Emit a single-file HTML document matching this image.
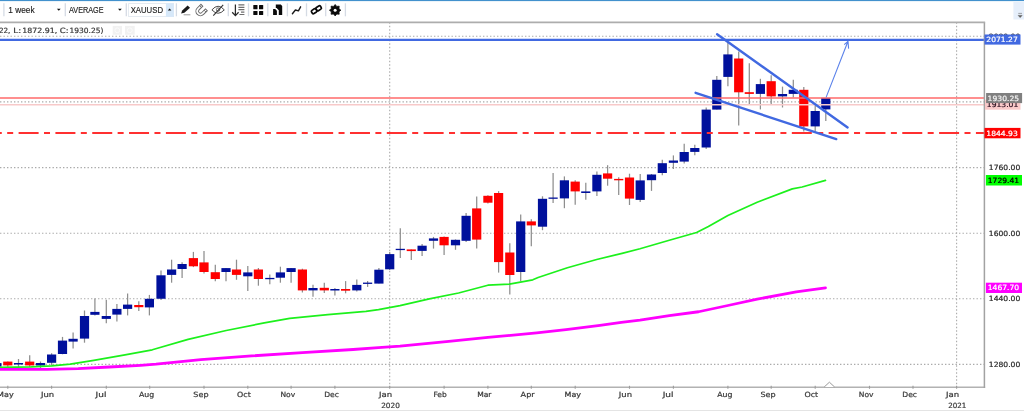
<!DOCTYPE html>
<html lang="en">
<head>
<meta charset="utf-8">
<title>XAUUSD weekly chart</title>
<style>
html,body{margin:0;padding:0;background:#fff;}
body{width:1024px;height:411px;overflow:hidden;position:relative;font-family:"Liberation Sans",sans-serif;}
.chart{position:absolute;left:0;top:0;display:block;}
.tb{position:absolute;left:0;top:0;display:block;}
.foot{position:absolute;left:0;top:410px;width:1024px;height:1px;background:#e4e4e4;}
</style>
</head>
<body>
<svg class="chart" width="1024" height="411" viewBox="0 0 1024 411">
<line x1="0" y1="36.3" x2="984.4" y2="36.3" stroke="#aaaaaa" stroke-width="1.1" stroke-dasharray="1.4 2.1"/>
<line x1="0" y1="101.9" x2="984.4" y2="101.9" stroke="#aaaaaa" stroke-width="1.1" stroke-dasharray="1.4 2.1"/>
<line x1="0" y1="167.6" x2="984.4" y2="167.6" stroke="#aaaaaa" stroke-width="1.1" stroke-dasharray="1.4 2.1"/>
<line x1="0" y1="233.3" x2="984.4" y2="233.3" stroke="#aaaaaa" stroke-width="1.1" stroke-dasharray="1.4 2.1"/>
<line x1="0" y1="298.8" x2="984.4" y2="298.8" stroke="#aaaaaa" stroke-width="1.1" stroke-dasharray="1.4 2.1"/>
<line x1="0" y1="364.4" x2="984.4" y2="364.4" stroke="#aaaaaa" stroke-width="1.1" stroke-dasharray="1.4 2.1"/>
<line x1="389.7" y1="22.3" x2="389.7" y2="387.3" stroke="#aaaaaa" stroke-width="1.1" stroke-dasharray="1.4 2.1"/>
<line x1="956.6" y1="22.3" x2="956.6" y2="387.3" stroke="#aaaaaa" stroke-width="1.1" stroke-dasharray="1.4 2.1"/>
<line x1="-3.1" y1="363.1" x2="-3.1" y2="366.6" stroke="#8e8e8e" stroke-width="1.25"/>
<rect x="-7.70" y="363.1" width="9.2" height="3.50" fill="#00109c"/>
<line x1="7.8" y1="361.6" x2="7.8" y2="367.0" stroke="#8e8e8e" stroke-width="1.25"/>
<rect x="3.20" y="361.6" width="9.2" height="3.80" fill="#ff0000"/>
<line x1="18.5" y1="359.0" x2="18.5" y2="367.3" stroke="#8e8e8e" stroke-width="1.25"/>
<rect x="13.90" y="363.0" width="9.2" height="1.50" fill="#00109c"/>
<line x1="29.7" y1="355.3" x2="29.7" y2="367.0" stroke="#8e8e8e" stroke-width="1.25"/>
<rect x="25.10" y="361.6" width="9.2" height="3.80" fill="#ff0000"/>
<line x1="40.5" y1="361.5" x2="40.5" y2="368.0" stroke="#8e8e8e" stroke-width="1.25"/>
<rect x="35.90" y="363.0" width="9.2" height="2.50" fill="#00109c"/>
<line x1="51.6" y1="353.2" x2="51.6" y2="365.1" stroke="#8e8e8e" stroke-width="1.25"/>
<rect x="47.00" y="354.5" width="9.2" height="8.30" fill="#00109c"/>
<line x1="62.5" y1="336.9" x2="62.5" y2="354.3" stroke="#8e8e8e" stroke-width="1.25"/>
<rect x="57.90" y="340.6" width="9.2" height="13.40" fill="#00109c"/>
<line x1="73.1" y1="332.6" x2="73.1" y2="348.6" stroke="#8e8e8e" stroke-width="1.25"/>
<rect x="68.50" y="338.8" width="9.2" height="2.80" fill="#00109c"/>
<line x1="84.5" y1="310.5" x2="84.5" y2="342.7" stroke="#8e8e8e" stroke-width="1.25"/>
<rect x="79.90" y="316.0" width="9.2" height="22.60" fill="#00109c"/>
<line x1="94.9" y1="298.4" x2="94.9" y2="315.4" stroke="#8e8e8e" stroke-width="1.25"/>
<rect x="90.30" y="311.9" width="9.2" height="2.90" fill="#00109c"/>
<line x1="106.3" y1="299.8" x2="106.3" y2="323.2" stroke="#8e8e8e" stroke-width="1.25"/>
<rect x="101.70" y="316.0" width="9.2" height="2.90" fill="#00109c"/>
<line x1="116.9" y1="304.0" x2="116.9" y2="321.6" stroke="#8e8e8e" stroke-width="1.25"/>
<rect x="112.30" y="308.9" width="9.2" height="5.70" fill="#00109c"/>
<line x1="127.6" y1="293.5" x2="127.6" y2="315.4" stroke="#8e8e8e" stroke-width="1.25"/>
<rect x="123.00" y="304.6" width="9.2" height="4.30" fill="#00109c"/>
<line x1="138.8" y1="301.3" x2="138.8" y2="310.9" stroke="#8e8e8e" stroke-width="1.25"/>
<rect x="134.20" y="305.0" width="9.2" height="2.20" fill="#ff0000"/>
<line x1="149.4" y1="294.9" x2="149.4" y2="315.4" stroke="#8e8e8e" stroke-width="1.25"/>
<rect x="144.80" y="298.8" width="9.2" height="8.60" fill="#00109c"/>
<line x1="161.0" y1="270.6" x2="161.0" y2="300.0" stroke="#8e8e8e" stroke-width="1.25"/>
<rect x="156.40" y="275.3" width="9.2" height="23.45" fill="#00109c"/>
<line x1="171.6" y1="259.7" x2="171.6" y2="282.7" stroke="#8e8e8e" stroke-width="1.25"/>
<rect x="167.00" y="269.5" width="9.2" height="5.40" fill="#00109c"/>
<line x1="182.1" y1="262.2" x2="182.1" y2="277.9" stroke="#8e8e8e" stroke-width="1.25"/>
<rect x="177.50" y="264.0" width="9.2" height="5.00" fill="#00109c"/>
<line x1="193.4" y1="251.9" x2="193.4" y2="267.1" stroke="#8e8e8e" stroke-width="1.25"/>
<rect x="188.80" y="258.1" width="9.2" height="8.20" fill="#ff0000"/>
<line x1="204.0" y1="251.1" x2="204.0" y2="273.4" stroke="#8e8e8e" stroke-width="1.25"/>
<rect x="199.40" y="262.4" width="9.2" height="9.60" fill="#ff0000"/>
<line x1="215.3" y1="264.8" x2="215.3" y2="281.2" stroke="#8e8e8e" stroke-width="1.25"/>
<rect x="210.70" y="272.2" width="9.2" height="6.80" fill="#ff0000"/>
<line x1="226.0" y1="268.1" x2="226.0" y2="281.2" stroke="#8e8e8e" stroke-width="1.25"/>
<rect x="221.40" y="268.1" width="9.2" height="3.90" fill="#00109c"/>
<line x1="236.5" y1="259.7" x2="236.5" y2="279.8" stroke="#8e8e8e" stroke-width="1.25"/>
<rect x="231.90" y="269.5" width="9.2" height="5.40" fill="#ff0000"/>
<line x1="247.8" y1="266.1" x2="247.8" y2="290.9" stroke="#8e8e8e" stroke-width="1.25"/>
<rect x="243.20" y="272.4" width="9.2" height="3.90" fill="#00109c"/>
<line x1="258.4" y1="268.0" x2="258.4" y2="285.7" stroke="#8e8e8e" stroke-width="1.25"/>
<rect x="253.80" y="269.5" width="9.2" height="9.50" fill="#ff0000"/>
<line x1="269.8" y1="274.5" x2="269.8" y2="284.3" stroke="#8e8e8e" stroke-width="1.25"/>
<rect x="265.20" y="277.9" width="9.2" height="1.30" fill="#00109c"/>
<line x1="280.4" y1="266.7" x2="280.4" y2="282.7" stroke="#8e8e8e" stroke-width="1.25"/>
<rect x="275.80" y="272.4" width="9.2" height="5.30" fill="#00109c"/>
<line x1="291.1" y1="268.1" x2="291.1" y2="282.7" stroke="#8e8e8e" stroke-width="1.25"/>
<rect x="286.50" y="268.1" width="9.2" height="3.90" fill="#00109c"/>
<line x1="302.4" y1="268.7" x2="302.4" y2="292.5" stroke="#8e8e8e" stroke-width="1.25"/>
<rect x="297.80" y="269.5" width="9.2" height="20.90" fill="#ff0000"/>
<line x1="313.0" y1="284.7" x2="313.0" y2="296.8" stroke="#8e8e8e" stroke-width="1.25"/>
<rect x="308.40" y="288.0" width="9.2" height="2.40" fill="#00109c"/>
<line x1="324.3" y1="282.7" x2="324.3" y2="292.9" stroke="#8e8e8e" stroke-width="1.25"/>
<rect x="319.70" y="287.8" width="9.2" height="2.60" fill="#ff0000"/>
<line x1="334.9" y1="288.0" x2="334.9" y2="295.4" stroke="#8e8e8e" stroke-width="1.25"/>
<rect x="330.30" y="289.0" width="9.2" height="1.50" fill="#00109c"/>
<line x1="345.6" y1="281.1" x2="345.6" y2="293.3" stroke="#8e8e8e" stroke-width="1.25"/>
<rect x="341.00" y="289.0" width="9.2" height="1.70" fill="#ff0000"/>
<line x1="356.8" y1="279.5" x2="356.8" y2="291.6" stroke="#8e8e8e" stroke-width="1.25"/>
<rect x="352.20" y="284.9" width="9.2" height="5.50" fill="#00109c"/>
<line x1="367.6" y1="281.0" x2="367.6" y2="286.9" stroke="#8e8e8e" stroke-width="1.25"/>
<rect x="363.00" y="282.6" width="9.2" height="1.30" fill="#00109c"/>
<line x1="378.9" y1="268.1" x2="378.9" y2="283.6" stroke="#8e8e8e" stroke-width="1.25"/>
<rect x="374.30" y="269.7" width="9.2" height="13.90" fill="#00109c"/>
<line x1="389.7" y1="252.1" x2="389.7" y2="270.1" stroke="#8e8e8e" stroke-width="1.25"/>
<rect x="385.10" y="254.1" width="9.2" height="15.20" fill="#00109c"/>
<line x1="400.3" y1="228.3" x2="400.3" y2="258.0" stroke="#8e8e8e" stroke-width="1.25"/>
<rect x="395.70" y="248.8" width="9.2" height="1.30" fill="#00109c"/>
<line x1="411.3" y1="249.4" x2="411.3" y2="259.9" stroke="#8e8e8e" stroke-width="1.25"/>
<rect x="406.70" y="249.4" width="9.2" height="1.70" fill="#ff0000"/>
<line x1="422.1" y1="243.9" x2="422.1" y2="256.0" stroke="#8e8e8e" stroke-width="1.25"/>
<rect x="417.50" y="245.7" width="9.2" height="5.20" fill="#00109c"/>
<line x1="433.5" y1="236.9" x2="433.5" y2="248.6" stroke="#8e8e8e" stroke-width="1.25"/>
<rect x="428.90" y="238.4" width="9.2" height="2.40" fill="#00109c"/>
<line x1="444.1" y1="236.5" x2="444.1" y2="255.0" stroke="#8e8e8e" stroke-width="1.25"/>
<rect x="439.50" y="236.9" width="9.2" height="8.40" fill="#ff0000"/>
<line x1="455.5" y1="239.4" x2="455.5" y2="249.8" stroke="#8e8e8e" stroke-width="1.25"/>
<rect x="450.90" y="239.8" width="9.2" height="5.50" fill="#00109c"/>
<line x1="466.1" y1="212.9" x2="466.1" y2="242.0" stroke="#8e8e8e" stroke-width="1.25"/>
<rect x="461.50" y="215.8" width="9.2" height="25.00" fill="#00109c"/>
<line x1="476.7" y1="196.5" x2="476.7" y2="248.6" stroke="#8e8e8e" stroke-width="1.25"/>
<rect x="472.10" y="208.4" width="9.2" height="31.20" fill="#ff0000"/>
<line x1="487.9" y1="195.3" x2="487.9" y2="203.4" stroke="#8e8e8e" stroke-width="1.25"/>
<rect x="483.30" y="195.8" width="9.2" height="6.90" fill="#ff0000"/>
<line x1="498.6" y1="191.1" x2="498.6" y2="272.6" stroke="#8e8e8e" stroke-width="1.25"/>
<rect x="494.00" y="193.0" width="9.2" height="69.10" fill="#ff0000"/>
<line x1="509.8" y1="243.3" x2="509.8" y2="294.4" stroke="#8e8e8e" stroke-width="1.25"/>
<rect x="505.20" y="252.5" width="9.2" height="22.50" fill="#ff0000"/>
<line x1="520.7" y1="214.5" x2="520.7" y2="281.2" stroke="#8e8e8e" stroke-width="1.25"/>
<rect x="516.10" y="221.4" width="9.2" height="50.60" fill="#00109c"/>
<line x1="531.3" y1="219.3" x2="531.3" y2="246.25" stroke="#8e8e8e" stroke-width="1.25"/>
<rect x="526.70" y="221.4" width="9.2" height="4.00" fill="#ff0000"/>
<line x1="542.5" y1="196.3" x2="542.5" y2="230.2" stroke="#8e8e8e" stroke-width="1.25"/>
<rect x="537.90" y="198.8" width="9.2" height="27.90" fill="#00109c"/>
<line x1="553.1" y1="173.0" x2="553.1" y2="203.1" stroke="#8e8e8e" stroke-width="1.25"/>
<rect x="548.50" y="197.5" width="9.2" height="1.30" fill="#00109c"/>
<line x1="564.4" y1="176.4" x2="564.4" y2="208.2" stroke="#8e8e8e" stroke-width="1.25"/>
<rect x="559.80" y="180.3" width="9.2" height="18.10" fill="#00109c"/>
<line x1="575.2" y1="180.3" x2="575.2" y2="204.7" stroke="#8e8e8e" stroke-width="1.25"/>
<rect x="570.60" y="181.6" width="9.2" height="9.80" fill="#ff0000"/>
<line x1="585.8" y1="182.8" x2="585.8" y2="199.8" stroke="#8e8e8e" stroke-width="1.25"/>
<rect x="581.20" y="191.4" width="9.2" height="1.60" fill="#00109c"/>
<line x1="596.9" y1="171.5" x2="596.9" y2="195.9" stroke="#8e8e8e" stroke-width="1.25"/>
<rect x="592.30" y="174.8" width="9.2" height="16.60" fill="#00109c"/>
<line x1="607.6" y1="165.2" x2="607.6" y2="185.7" stroke="#8e8e8e" stroke-width="1.25"/>
<rect x="603.00" y="173.4" width="9.2" height="5.30" fill="#ff0000"/>
<line x1="618.7" y1="177.3" x2="618.7" y2="194.9" stroke="#8e8e8e" stroke-width="1.25"/>
<rect x="614.10" y="178.9" width="9.2" height="1.40" fill="#ff0000"/>
<line x1="629.5" y1="173.7" x2="629.5" y2="205.0" stroke="#8e8e8e" stroke-width="1.25"/>
<rect x="624.90" y="177.5" width="9.2" height="21.10" fill="#ff0000"/>
<line x1="640.2" y1="174.0" x2="640.2" y2="201.9" stroke="#8e8e8e" stroke-width="1.25"/>
<rect x="635.60" y="180.4" width="9.2" height="19.50" fill="#00109c"/>
<line x1="651.5" y1="174.0" x2="651.5" y2="190.9" stroke="#8e8e8e" stroke-width="1.25"/>
<rect x="646.90" y="174.5" width="9.2" height="5.70" fill="#00109c"/>
<line x1="662.3" y1="159.7" x2="662.3" y2="175.3" stroke="#8e8e8e" stroke-width="1.25"/>
<rect x="657.70" y="163.2" width="9.2" height="9.80" fill="#00109c"/>
<line x1="673.4" y1="155.4" x2="673.4" y2="169.0" stroke="#8e8e8e" stroke-width="1.25"/>
<rect x="668.80" y="160.5" width="9.2" height="2.30" fill="#00109c"/>
<line x1="684.2" y1="143.7" x2="684.2" y2="163.6" stroke="#8e8e8e" stroke-width="1.25"/>
<rect x="679.60" y="152.0" width="9.2" height="9.60" fill="#00109c"/>
<line x1="694.8" y1="144.8" x2="694.8" y2="155.3" stroke="#8e8e8e" stroke-width="1.25"/>
<rect x="690.20" y="148.0" width="9.2" height="3.90" fill="#00109c"/>
<line x1="706.2" y1="107.5" x2="706.2" y2="149.0" stroke="#8e8e8e" stroke-width="1.25"/>
<rect x="701.60" y="109.6" width="9.2" height="37.90" fill="#00109c"/>
<line x1="716.8" y1="75.9" x2="716.8" y2="109.6" stroke="#8e8e8e" stroke-width="1.25"/>
<rect x="712.20" y="79.8" width="9.2" height="29.80" fill="#00109c"/>
<line x1="727.9" y1="41.7" x2="727.9" y2="86.2" stroke="#8e8e8e" stroke-width="1.25"/>
<rect x="723.30" y="54.4" width="9.2" height="22.50" fill="#00109c"/>
<line x1="738.7" y1="51.5" x2="738.7" y2="125.6" stroke="#8e8e8e" stroke-width="1.25"/>
<rect x="734.10" y="58.5" width="9.2" height="33.80" fill="#ff0000"/>
<line x1="749.3" y1="63.2" x2="749.3" y2="104.1" stroke="#8e8e8e" stroke-width="1.25"/>
<rect x="744.70" y="92.2" width="9.2" height="1.70" fill="#ff0000"/>
<line x1="760.4" y1="78.8" x2="760.4" y2="109.4" stroke="#8e8e8e" stroke-width="1.25"/>
<rect x="755.80" y="84.1" width="9.2" height="9.80" fill="#00109c"/>
<line x1="771.2" y1="75.3" x2="771.2" y2="104.1" stroke="#8e8e8e" stroke-width="1.25"/>
<rect x="766.60" y="81.2" width="9.2" height="15.20" fill="#ff0000"/>
<line x1="782.5" y1="86.6" x2="782.5" y2="107.5" stroke="#8e8e8e" stroke-width="1.25"/>
<rect x="777.90" y="94.0" width="9.2" height="2.40" fill="#00109c"/>
<line x1="793.3" y1="79.8" x2="793.3" y2="97.5" stroke="#8e8e8e" stroke-width="1.25"/>
<rect x="788.70" y="89.8" width="9.2" height="4.10" fill="#00109c"/>
<line x1="803.8" y1="87.0" x2="803.8" y2="131.5" stroke="#8e8e8e" stroke-width="1.25"/>
<rect x="799.20" y="89.8" width="9.2" height="36.60" fill="#ff0000"/>
<line x1="815.2" y1="105.5" x2="815.2" y2="131.5" stroke="#8e8e8e" stroke-width="1.25"/>
<rect x="810.60" y="111.0" width="9.2" height="15.40" fill="#00109c"/>
<line x1="825.8" y1="97.9" x2="825.8" y2="121.1" stroke="#8e8e8e" stroke-width="1.25"/>
<rect x="821.20" y="97.9" width="9.2" height="11.50" fill="#00109c"/>
<line x1="0" y1="104.8" x2="984.4" y2="104.8" stroke="#f7c9c9" stroke-width="1.4"/>
<line x1="0" y1="98" x2="984.4" y2="98" stroke="#ff6a6a" stroke-width="1.4"/>
<line x1="-1.4" y1="133.1" x2="984.4" y2="133.1" stroke="#ff3030" stroke-width="2" stroke-dasharray="20 5.4 6 5.42" stroke-dashoffset="-20"/>
<polyline points="0,367.3 31.25,366.9 51.6,365.8 70.3,364.2 93.75,360.3 125,354.8 152.3,349.8 188.1,339.4 226.2,330.5 264.3,322.9 289.7,318.3 327.8,314.7 365.9,311.4 378.5,309.6 400,305.7 429.3,298.9 458.6,293.0 487.9,285.2 509.4,284.1 532.8,279.8 538.1,277.5 567.4,267.7 596.7,259.5 622.1,253.3 640,248.7 669.3,240.3 696.6,232.5 708.4,226.6 727.9,215.5 757.2,202.2 792.3,188.9 802.1,187.0 825.5,180.4" fill="none" stroke="#1cf01c" stroke-width="1.7" stroke-linejoin="round" stroke-linecap="round"/>
<polyline points="0,369.4 46.9,369.4 78.1,368.6 109.4,367.0 140.6,365.3 156,364.2 200.8,359.7 251.6,355.9 302.4,352.6 353.1,349.5 378.5,347.7 400,346.2 448.8,341.3 487.9,337.4 536.7,332.9 566,329.6 600,325.3 621.3,322.3 640,320.2 669.3,315.7 698.6,311.75 727.9,305.5 757.2,299.1 796.25,291.8 825.5,287.9" fill="none" stroke="#ff00ff" stroke-width="2.8" stroke-linejoin="round" stroke-linecap="round"/>
<line x1="0" y1="39.9" x2="984.4" y2="39.9" stroke="#4169e1" stroke-width="2.2"/>
<line x1="717.1" y1="34.3" x2="847.6" y2="127.4" stroke="#4169e1" stroke-width="2.4" stroke-linecap="round"/>
<line x1="695.6" y1="92.8" x2="836.25" y2="139.1" stroke="#4169e1" stroke-width="2.4" stroke-linecap="round"/>
<path d="M826.1 97.4 L848 41.3 M844.2 44.6 L848 41.3 L848.6 48.6" fill="none" stroke="#5b82ea" stroke-width="1.1"/>
<line x1="0" y1="387.3" x2="985.15" y2="387.3" stroke="#b2b2b2" stroke-width="1.6"/>
<line x1="984.4" y1="22.3" x2="984.4" y2="388.1" stroke="#a2a2a2" stroke-width="1.5"/>
<line x1="0" y1="22.3" x2="985.15" y2="22.3" stroke="#adadad" stroke-width="1.7"/>
<line x1="7.8" y1="385.8" x2="7.8" y2="388.8" stroke="#9c9c9c" stroke-width="1.1"/>
<line x1="51.6" y1="385.8" x2="51.6" y2="388.8" stroke="#9c9c9c" stroke-width="1.1"/>
<line x1="106.3" y1="385.8" x2="106.3" y2="388.8" stroke="#9c9c9c" stroke-width="1.1"/>
<line x1="149.7" y1="385.8" x2="149.7" y2="388.8" stroke="#9c9c9c" stroke-width="1.1"/>
<line x1="204" y1="385.8" x2="204" y2="388.8" stroke="#9c9c9c" stroke-width="1.1"/>
<line x1="247.8" y1="385.8" x2="247.8" y2="388.8" stroke="#9c9c9c" stroke-width="1.1"/>
<line x1="291.1" y1="385.8" x2="291.1" y2="388.8" stroke="#9c9c9c" stroke-width="1.1"/>
<line x1="334.9" y1="385.8" x2="334.9" y2="388.8" stroke="#9c9c9c" stroke-width="1.1"/>
<line x1="389.7" y1="385.8" x2="389.7" y2="388.8" stroke="#9c9c9c" stroke-width="1.1"/>
<line x1="444.1" y1="385.8" x2="444.1" y2="388.8" stroke="#9c9c9c" stroke-width="1.1"/>
<line x1="487.9" y1="385.8" x2="487.9" y2="388.8" stroke="#9c9c9c" stroke-width="1.1"/>
<line x1="531.3" y1="385.8" x2="531.3" y2="388.8" stroke="#9c9c9c" stroke-width="1.1"/>
<line x1="575.2" y1="385.8" x2="575.2" y2="388.8" stroke="#9c9c9c" stroke-width="1.1"/>
<line x1="629.5" y1="385.8" x2="629.5" y2="388.8" stroke="#9c9c9c" stroke-width="1.1"/>
<line x1="673.4" y1="385.8" x2="673.4" y2="388.8" stroke="#9c9c9c" stroke-width="1.1"/>
<line x1="727.9" y1="385.8" x2="727.9" y2="388.8" stroke="#9c9c9c" stroke-width="1.1"/>
<line x1="771.2" y1="385.8" x2="771.2" y2="388.8" stroke="#9c9c9c" stroke-width="1.1"/>
<line x1="815.2" y1="385.8" x2="815.2" y2="388.8" stroke="#9c9c9c" stroke-width="1.1"/>
<line x1="869.5" y1="385.8" x2="869.5" y2="388.8" stroke="#9c9c9c" stroke-width="1.1"/>
<line x1="913" y1="385.8" x2="913" y2="388.8" stroke="#9c9c9c" stroke-width="1.1"/>
<line x1="956.6" y1="385.8" x2="956.6" y2="388.8" stroke="#9c9c9c" stroke-width="1.1"/>
<path d="M824.2 387 L829.4 382.2 L834.6 387" fill="#fff" stroke="#9a9a9a" stroke-width="1"/>
<text x="988.8" y="38.8" font-family="DejaVu Sans, Liberation Sans, sans-serif" font-size="7.2" fill="#2a2a2a" stroke="#2a2a2a" stroke-width="0.22" textLength="31.5" lengthAdjust="spacingAndGlyphs">2080.00</text>
<text x="988.8" y="104.4" font-family="DejaVu Sans, Liberation Sans, sans-serif" font-size="7.2" fill="#2a2a2a" stroke="#2a2a2a" stroke-width="0.22" textLength="31.5" lengthAdjust="spacingAndGlyphs">1920.00</text>
<text x="988.8" y="170.1" font-family="DejaVu Sans, Liberation Sans, sans-serif" font-size="7.2" fill="#2a2a2a" stroke="#2a2a2a" stroke-width="0.22" textLength="31.5" lengthAdjust="spacingAndGlyphs">1760.00</text>
<text x="988.8" y="235.8" font-family="DejaVu Sans, Liberation Sans, sans-serif" font-size="7.2" fill="#2a2a2a" stroke="#2a2a2a" stroke-width="0.22" textLength="31.5" lengthAdjust="spacingAndGlyphs">1600.00</text>
<text x="988.8" y="301.3" font-family="DejaVu Sans, Liberation Sans, sans-serif" font-size="7.2" fill="#2a2a2a" stroke="#2a2a2a" stroke-width="0.22" textLength="31.5" lengthAdjust="spacingAndGlyphs">1440.00</text>
<text x="988.8" y="366.9" font-family="DejaVu Sans, Liberation Sans, sans-serif" font-size="7.2" fill="#2a2a2a" stroke="#2a2a2a" stroke-width="0.22" textLength="31.5" lengthAdjust="spacingAndGlyphs">1280.00</text>
<rect x="984.5" y="34.5" width="36" height="10.1" fill="#4169e1"/>
<text x="986.3" y="42.3" font-family="DejaVu Sans, Liberation Sans, sans-serif" font-size="7.2" fill="#fff" stroke="#fff" stroke-width="0.22" textLength="31.5" lengthAdjust="spacingAndGlyphs">2071.27</text>
<rect x="985" y="99.7" width="35.5" height="10" fill="#f9c9c9"/>
<text x="986.8" y="107.4" font-family="DejaVu Sans, Liberation Sans, sans-serif" font-size="7.2" fill="#2a1020" stroke="#2a1020" stroke-width="0.22" textLength="31.5" lengthAdjust="spacingAndGlyphs">1913.01</text>
<rect x="986.1" y="93" width="36" height="10.1" fill="#808080"/>
<text x="987.6" y="100.7" font-family="DejaVu Sans, Liberation Sans, sans-serif" font-size="7.2" fill="#f4f4f4" stroke="#f4f4f4" stroke-width="0.22" textLength="31.5" lengthAdjust="spacingAndGlyphs">1930.25</text>
<rect x="984.5" y="127.9" width="36" height="10.4" fill="#ff0000"/>
<text x="986.3" y="135.8" font-family="DejaVu Sans, Liberation Sans, sans-serif" font-size="7.2" fill="#fff" stroke="#fff" stroke-width="0.22" textLength="31.5" lengthAdjust="spacingAndGlyphs">1844.93</text>
<rect x="985.9" y="175" width="36.1" height="10.5" fill="#00ff00"/>
<text x="987.7" y="182.5" font-family="DejaVu Sans, Liberation Sans, sans-serif" font-size="7.2" fill="#000" stroke="#000" stroke-width="0.22" textLength="31.5" lengthAdjust="spacingAndGlyphs">1729.41</text>
<rect x="985.9" y="282.7" width="36.1" height="10.3" fill="#ff00ff"/>
<text x="987.7" y="290.2" font-family="DejaVu Sans, Liberation Sans, sans-serif" font-size="7.2" fill="#fff" stroke="#fff" stroke-width="0.22" textLength="31.5" lengthAdjust="spacingAndGlyphs">1467.70</text>
<text x="-2.9" y="396.6" font-family="DejaVu Sans, Liberation Sans, sans-serif" font-size="7.2" fill="#3a3a3a" stroke="#3a3a3a" stroke-width="0.22" textLength="16.5" lengthAdjust="spacingAndGlyphs">May</text>
<text x="40.9" y="396.6" font-family="DejaVu Sans, Liberation Sans, sans-serif" font-size="7.2" fill="#3a3a3a" stroke="#3a3a3a" stroke-width="0.22" textLength="13.2" lengthAdjust="spacingAndGlyphs">Jun</text>
<text x="95.6" y="396.6" font-family="DejaVu Sans, Liberation Sans, sans-serif" font-size="7.2" fill="#3a3a3a" stroke="#3a3a3a" stroke-width="0.22" textLength="10.8" lengthAdjust="spacingAndGlyphs">Jul</text>
<text x="139.0" y="396.6" font-family="DejaVu Sans, Liberation Sans, sans-serif" font-size="7.2" fill="#3a3a3a" stroke="#3a3a3a" stroke-width="0.22" textLength="15.2" lengthAdjust="spacingAndGlyphs">Aug</text>
<text x="193.3" y="396.6" font-family="DejaVu Sans, Liberation Sans, sans-serif" font-size="7.2" fill="#3a3a3a" stroke="#3a3a3a" stroke-width="0.22" textLength="15.2" lengthAdjust="spacingAndGlyphs">Sep</text>
<text x="237.1" y="396.6" font-family="DejaVu Sans, Liberation Sans, sans-serif" font-size="7.2" fill="#3a3a3a" stroke="#3a3a3a" stroke-width="0.22" textLength="13.7" lengthAdjust="spacingAndGlyphs">Oct</text>
<text x="280.4" y="396.6" font-family="DejaVu Sans, Liberation Sans, sans-serif" font-size="7.2" fill="#3a3a3a" stroke="#3a3a3a" stroke-width="0.22" textLength="14.7" lengthAdjust="spacingAndGlyphs">Nov</text>
<text x="324.2" y="396.6" font-family="DejaVu Sans, Liberation Sans, sans-serif" font-size="7.2" fill="#3a3a3a" stroke="#3a3a3a" stroke-width="0.22" textLength="14.7" lengthAdjust="spacingAndGlyphs">Dec</text>
<text x="379.0" y="396.6" font-family="DejaVu Sans, Liberation Sans, sans-serif" font-size="7.2" fill="#3a3a3a" stroke="#3a3a3a" stroke-width="0.22" textLength="13.2" lengthAdjust="spacingAndGlyphs">Jan</text>
<text x="433.4" y="396.6" font-family="DejaVu Sans, Liberation Sans, sans-serif" font-size="7.2" fill="#3a3a3a" stroke="#3a3a3a" stroke-width="0.22" textLength="13.3" lengthAdjust="spacingAndGlyphs">Feb</text>
<text x="477.2" y="396.6" font-family="DejaVu Sans, Liberation Sans, sans-serif" font-size="7.2" fill="#3a3a3a" stroke="#3a3a3a" stroke-width="0.22" textLength="14.3" lengthAdjust="spacingAndGlyphs">Mar</text>
<text x="520.6" y="396.6" font-family="DejaVu Sans, Liberation Sans, sans-serif" font-size="7.2" fill="#3a3a3a" stroke="#3a3a3a" stroke-width="0.22" textLength="14" lengthAdjust="spacingAndGlyphs">Apr</text>
<text x="564.5" y="396.6" font-family="DejaVu Sans, Liberation Sans, sans-serif" font-size="7.2" fill="#3a3a3a" stroke="#3a3a3a" stroke-width="0.22" textLength="16.5" lengthAdjust="spacingAndGlyphs">May</text>
<text x="618.8" y="396.6" font-family="DejaVu Sans, Liberation Sans, sans-serif" font-size="7.2" fill="#3a3a3a" stroke="#3a3a3a" stroke-width="0.22" textLength="13.2" lengthAdjust="spacingAndGlyphs">Jun</text>
<text x="662.7" y="396.6" font-family="DejaVu Sans, Liberation Sans, sans-serif" font-size="7.2" fill="#3a3a3a" stroke="#3a3a3a" stroke-width="0.22" textLength="10.8" lengthAdjust="spacingAndGlyphs">Jul</text>
<text x="717.2" y="396.6" font-family="DejaVu Sans, Liberation Sans, sans-serif" font-size="7.2" fill="#3a3a3a" stroke="#3a3a3a" stroke-width="0.22" textLength="15.2" lengthAdjust="spacingAndGlyphs">Aug</text>
<text x="760.5" y="396.6" font-family="DejaVu Sans, Liberation Sans, sans-serif" font-size="7.2" fill="#3a3a3a" stroke="#3a3a3a" stroke-width="0.22" textLength="15.2" lengthAdjust="spacingAndGlyphs">Sep</text>
<text x="804.5" y="396.6" font-family="DejaVu Sans, Liberation Sans, sans-serif" font-size="7.2" fill="#3a3a3a" stroke="#3a3a3a" stroke-width="0.22" textLength="13.7" lengthAdjust="spacingAndGlyphs">Oct</text>
<text x="858.8" y="396.6" font-family="DejaVu Sans, Liberation Sans, sans-serif" font-size="7.2" fill="#3a3a3a" stroke="#3a3a3a" stroke-width="0.22" textLength="14.7" lengthAdjust="spacingAndGlyphs">Nov</text>
<text x="902.3" y="396.6" font-family="DejaVu Sans, Liberation Sans, sans-serif" font-size="7.2" fill="#3a3a3a" stroke="#3a3a3a" stroke-width="0.22" textLength="14.7" lengthAdjust="spacingAndGlyphs">Dec</text>
<text x="945.9" y="396.6" font-family="DejaVu Sans, Liberation Sans, sans-serif" font-size="7.2" fill="#3a3a3a" stroke="#3a3a3a" stroke-width="0.22" textLength="13.2" lengthAdjust="spacingAndGlyphs">Jan</text>
<text x="381.2" y="407.6" font-family="DejaVu Sans, Liberation Sans, sans-serif" font-size="7.2" fill="#3a3a3a" stroke="#3a3a3a" stroke-width="0.22" textLength="18.7" lengthAdjust="spacingAndGlyphs">2020</text>
<text x="948.2" y="407.6" font-family="DejaVu Sans, Liberation Sans, sans-serif" font-size="7.2" fill="#3a3a3a" stroke="#3a3a3a" stroke-width="0.22" textLength="18.2" lengthAdjust="spacingAndGlyphs">2021</text>
<text id="info" y="33.0" font-family="DejaVu Sans, Liberation Sans, sans-serif" font-size="7.2" fill="#3a3a3a" stroke="#3a3a3a" stroke-width="0.22"><tspan x="12.6" text-anchor="end">XAUUSD (O:1900.00, H:1933.22, </tspan><tspan x="13.3" textLength="7.9" lengthAdjust="spacingAndGlyphs">L:</tspan><tspan x="22.3" textLength="37.5" lengthAdjust="spacingAndGlyphs">1872.91, </tspan><tspan x="59.8" textLength="8.7" lengthAdjust="spacingAndGlyphs">C:</tspan><tspan x="69.4" textLength="34.1" lengthAdjust="spacingAndGlyphs">1930.25)</tspan></text>
<rect x="112.7" y="25.9" width="9.3" height="8.8" fill="#f1f1f1"/><circle cx="117.3" cy="30.3" r="2.4" fill="none" stroke="#fbfbfb" stroke-width="1"/>
<rect x="125" y="25.9" width="9.7" height="8.8" fill="#f1f1f1"/><circle cx="129.8" cy="30.3" r="2.4" fill="none" stroke="#fbfbfb" stroke-width="1"/>
</svg>
<svg class="tb" width="1024" height="22" viewBox="0 0 1024 22">
<rect x="0" y="0" width="1024" height="1.1" fill="#4291cd"/>
<line x1="3.9" y1="3.3" x2="3.9" y2="16.3" stroke="#d5dbe4" stroke-width="1.3"/>
<line x1="65.3" y1="3.3" x2="65.3" y2="16.3" stroke="#d5dbe4" stroke-width="1.3"/>
<line x1="126.3" y1="3.3" x2="126.3" y2="16.3" stroke="#d5dbe4" stroke-width="1.3"/>
<line x1="176.4" y1="3.3" x2="176.4" y2="16.3" stroke="#d5dbe4" stroke-width="1.3"/>
<line x1="228.3" y1="3.3" x2="228.3" y2="16.3" stroke="#d5dbe4" stroke-width="1.3"/>
<line x1="248.5" y1="3.3" x2="248.5" y2="16.3" stroke="#d5dbe4" stroke-width="1.3"/>
<line x1="267.8" y1="3.3" x2="267.8" y2="16.3" stroke="#d5dbe4" stroke-width="1.3"/>
<line x1="287.4" y1="3.3" x2="287.4" y2="16.3" stroke="#d5dbe4" stroke-width="1.3"/>
<line x1="306.5" y1="3.3" x2="306.5" y2="16.3" stroke="#d5dbe4" stroke-width="1.3"/>
<line x1="325.7" y1="3.3" x2="325.7" y2="16.3" stroke="#d5dbe4" stroke-width="1.3"/>
<line x1="345.4" y1="3.3" x2="345.4" y2="16.3" stroke="#d5dbe4" stroke-width="1.3"/>
<path d="M56.9 8.7 H60.7 L58.8 10.8 Z" fill="#111"/>
<path d="M118 8.7 H121.8 L119.9 10.8 Z" fill="#111"/>
<rect x="128.6" y="3.6" width="45" height="13" fill="#fff" stroke="#dfe6ee" stroke-width="0.8"/>
<rect x="165.9" y="3.3" width="7.9" height="13.5" fill="#d6e8f9"/>
<path d="M167.8 10.6 H171.4 L169.6 8.5 Z" fill="#111"/>
<text x="8.3" y="12.7" font-family="Liberation Sans, sans-serif" font-size="8.3" fill="#1e1e1e" stroke="#1e1e1e" stroke-width="0.15">1 week</text>
<text x="69" y="12.7" font-family="Liberation Sans, sans-serif" font-size="8.3" fill="#1e1e1e" stroke="#1e1e1e" stroke-width="0.15" textLength="34.5" lengthAdjust="spacingAndGlyphs">AVERAGE</text>
<text x="130.7" y="12.7" font-family="Liberation Sans, sans-serif" font-size="8.3" fill="#1e1e1e" stroke="#1e1e1e" stroke-width="0.15" textLength="32.3" lengthAdjust="spacingAndGlyphs">XAUUSD</text>
<path d="M181.1 13.6 L182.2 10.4 L187.6 5.4 L190 7.8 L184.4 12.8 Z" fill="#1a1a1a"/>
<line x1="183.6" y1="14.8" x2="190.4" y2="14.8" stroke="#9a9a9a" stroke-width="1"/>
<g transform="translate(200.85 10.75) rotate(45)"><path d="M-4.5 -4.6 V0.6 A4.5 4.5 0 0 0 4.5 0.6 V-4.6 H1.9 V0.6 A1.9 1.9 0 0 1 -1.9 0.6 V-4.6 Z" fill="#fff" stroke="#6a6a6a" stroke-width="1"/><path d="M-4.5 -2.7 H-1.9 M1.9 -2.7 H4.5" stroke="#6a6a6a" stroke-width="0.9"/></g>
<path d="M211.9 9.9 Q218.1 2.6 224.3 9.9 Q218.1 16.6 211.9 9.9 Z" fill="none" stroke="#4a4a4a" stroke-width="1"/><circle cx="218.1" cy="9.6" r="1.7" fill="none" stroke="#5a5a5a" stroke-width="0.9"/><line x1="213.3" y1="15.6" x2="223.2" y2="4.8" stroke="#333" stroke-width="1.1"/>
<path d="M235.4 4.5 V15.4 M232.2 12.3 L235.4 15.6 L238.6 12.3" fill="none" stroke="#2a2a2a" stroke-width="1.25"/>
<path d="M238.4 4.8 H244.4 M238.4 7.4 H244.4 M238.4 9.7 H244.4 M241 12.1 H244.4 M239.4 14.5 H244.4" stroke="#6e6e6e" stroke-width="1.2"/>
<rect x="253.3" y="5.1" width="4.2" height="4.1" rx="0.5" fill="#0a0a0a"/>
<rect x="259" y="5.1" width="4.2" height="4.1" rx="0.5" fill="#0a0a0a"/>
<rect x="253.3" y="10.9" width="4.2" height="4.1" rx="0.5" fill="#0a0a0a"/>
<rect x="259" y="10.9" width="4.2" height="4.1" rx="0.5" fill="#0a0a0a"/>
<path d="M275.8 4.5 H280.8 L282.2 5.9 V15 H278.8 V10.2 L276.6 8 H275.8 Z" fill="#0a0a0a"/>
<path d="M273.1 9.1 H275.2 L276.9 10.8 V15 H273.1 Z" fill="#0a0a0a"/>
<path d="M292.4 13.8 L295.4 10 L298.4 10.9 L300.6 6.8" fill="none" stroke="#1a1a1a" stroke-width="1.4" stroke-linecap="round" stroke-linejoin="round"/>
<g transform="translate(316.4 9.75) rotate(-33)" fill="none" stroke="#0a0a0a" stroke-width="1.7"><rect x="-5.3" y="-1.9" width="5.3" height="3.8" rx="1.2"/><rect x="0" y="-1.9" width="5.3" height="3.8" rx="1.2"/></g>
<path d="M340.85 10.20 L338.94 11.77 L339.18 14.23 L336.72 13.99 L335.15 15.90 L333.58 13.99 L331.12 14.23 L331.36 11.77 L329.45 10.20 L331.36 8.63 L331.12 6.17 L333.58 6.41 L335.15 4.50 L336.72 6.41 L339.18 6.17 L338.94 8.63 Z" fill="#0a0a0a" stroke="#0a0a0a" stroke-width="0.8" stroke-linejoin="round"/>
<circle cx="335.15" cy="10.2" r="1.5" fill="#fff"/>
<rect x="1013.4" y="2" width="10.6" height="17.5" fill="#e6effb"/>
<path d="M1018.3 13.4 H1022 M1018.2 15.4 H1022.1 L1020.15 17.6 Z" fill="#555" stroke="#6a6a6a" stroke-width="0.6"/>
</svg>
<div class="foot"></div>
</body>
</html>
